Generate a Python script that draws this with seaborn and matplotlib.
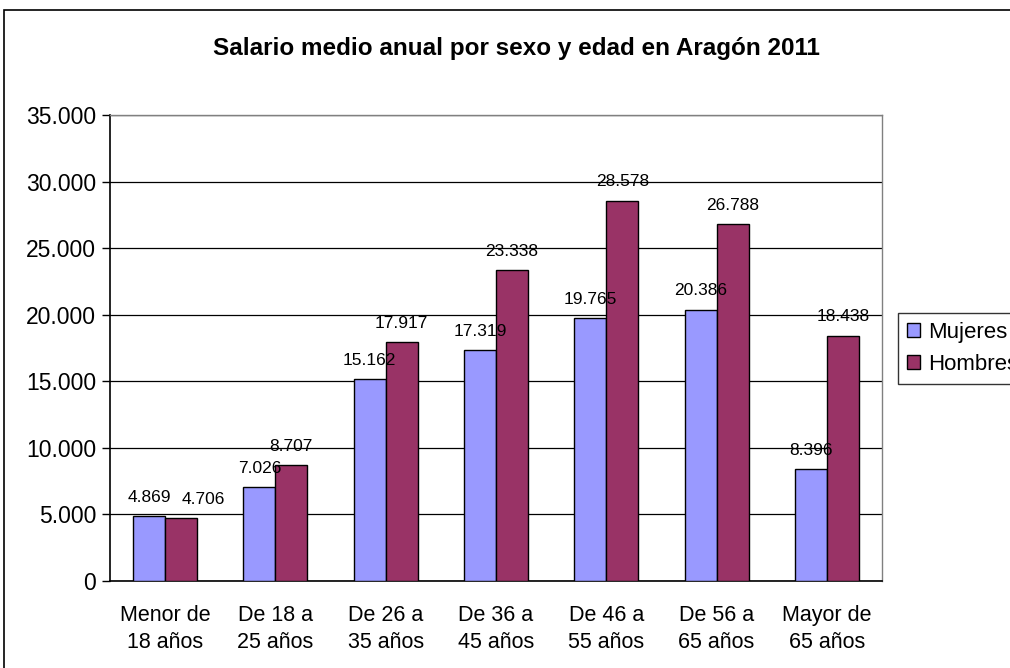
import matplotlib.pyplot as plt
import matplotlib.ticker as mticker
import numpy as np
import pandas as pd
import seaborn as sns
from matplotlib.patches import Rectangle

categories = [
    "Menor de\n18 años",
    "De 18 a\n25 años",
    "De 26 a\n35 años",
    "De 36 a\n45 años",
    "De 46 a\n55 años",
    "De 56 a\n65 años",
    "Mayor de\n65 años",
]
mujeres = [4869, 7026, 15162, 17319, 19765, 20386, 8396]
hombres = [4706, 8707, 17917, 23338, 28578, 26788, 18438]
series = ["Mujeres", "Hombres"]
colors = ["#9999FF", "#993366"]
title = "Salario medio anual por sexo y edad en Aragón 2011"

df = pd.DataFrame(
    {
        "grupo": categories * 2,
        "sexo": [series[0]] * len(categories) + [series[1]] * len(categories),
        "salario": mujeres + hombres,
    }
)


def miles(v, _pos=None):
    return f"{int(round(v)):,}".replace(",", ".")


sns.set_style("white")
plt.rcParams["font.family"] = ["Liberation Sans", "DejaVu Sans"]
plt.rcParams["text.color"] = "black"
plt.rcParams["xtick.color"] = "black"
plt.rcParams["ytick.color"] = "black"

fig = plt.figure(figsize=(10.1, 6.68), dpi=100)
ax = fig.add_axes([0.1089, 0.1302, 0.7644, 0.6976])

sns.barplot(
    data=df,
    x="grupo",
    y="salario",
    hue="sexo",
    palette=colors,
    width=0.58,
    edgecolor="black",
    linewidth=1,
    saturation=1,
    ax=ax,
    zorder=3,
)

# value labels; when both bars of a group are about the same height the
# second label is nudged right so the two don't collide
mujeres_bars, hombres_bars = ax.containers[0], ax.containers[1]
for bm, bh in zip(mujeres_bars, hombres_bars):
    hm, hh = bm.get_height(), bh.get_height()
    close = abs(hm - hh) < 1200
    for bar, dx in ((bm, 0), (bh, 16 if close else 0)):
        ax.annotate(
            miles(bar.get_height()),
            (bar.get_x() + bar.get_width() / 2, bar.get_height()),
            xytext=(dx, 8),
            textcoords="offset points",
            ha="center",
            va="bottom",
            fontsize=12.5,
            color="black",
        )

ax.set_ylim(0, 35000)
ax.set_xlim(-0.5, len(categories) - 0.5)
ax.yaxis.set_major_locator(mticker.MultipleLocator(5000))
ax.yaxis.set_major_formatter(mticker.FuncFormatter(miles))
ax.yaxis.grid(True, color="black", linewidth=0.9, zorder=0)
ax.set_axisbelow(True)
ax.set_xlabel("")
ax.set_ylabel("")

ax.set_xticks(np.arange(len(categories)))
ax.set_xticklabels(categories, fontsize=15.5, linespacing=1.4)
ax.set_xticks(np.arange(len(categories) + 1) - 0.5, minor=True)
ax.tick_params(axis="x", which="major", length=0, pad=17)
ax.tick_params(axis="x", which="minor", length=6, width=1, color="black", direction="out")
ax.tick_params(axis="y", labelsize=16.5, length=6, width=1, color="black", direction="out", left=True, pad=4)

for side in ["left", "bottom"]:
    ax.spines[side].set_color("black")
    ax.spines[side].set_linewidth(1.2)
for side in ["top", "right"]:
    ax.spines[side].set_color("#808080")
    ax.spines[side].set_linewidth(1)

handles, labels = ax.get_legend_handles_labels()
ax.legend_.remove()
fig.legend(
    handles,
    labels,
    loc="upper left",
    bbox_to_anchor=(898 / 1010, 1 - 313 / 668),
    fontsize=16,
    frameon=True,
    fancybox=False,
    edgecolor="black",
    handlelength=0.6,
    handleheight=0.6,
    handletextpad=0.35,
    borderpad=0.4,
    labelspacing=0.5,
    borderaxespad=0,
)
fig.legends[0].get_frame().set_linewidth(1)

fig.text(516 / 1010, 1 - 48 / 668, title, ha="center", va="center",
         fontsize=17.5, fontweight="bold")

fig.patches.append(
    Rectangle((4 / 1010, -0.1), 1.2, 1 - 10 / 668 + 0.1, transform=fig.transFigure,
              fill=False, edgecolor="black", linewidth=1.2, zorder=0)
)

fig.savefig("out.png", dpi=100)
